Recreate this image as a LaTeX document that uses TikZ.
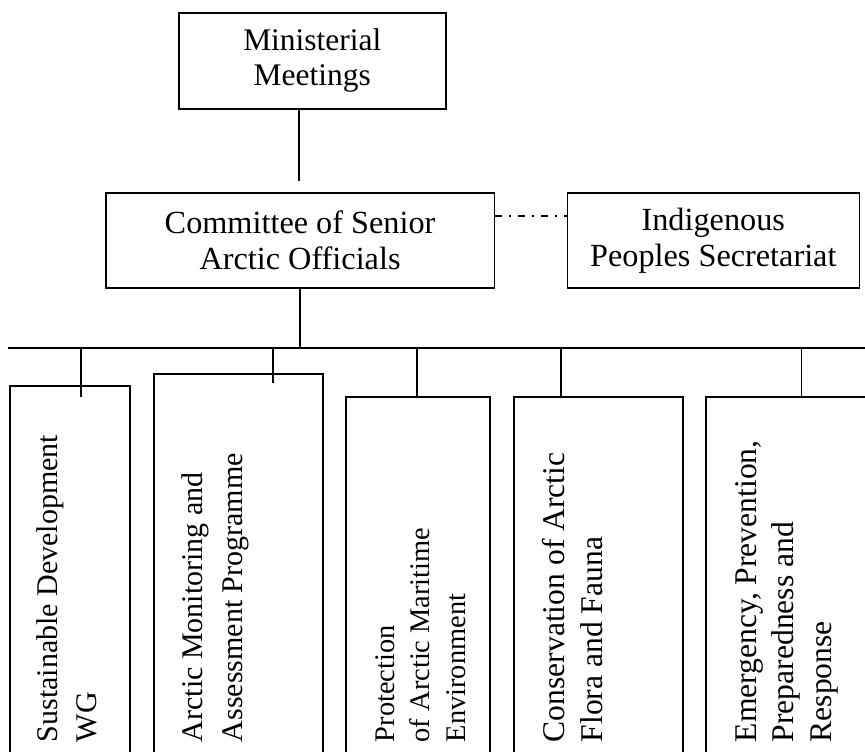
\documentclass[tikz,border=0pt]{standalone}
\usepackage{fontspec}
\setmainfont{Liberation Serif}
\usetikzlibrary{calc}
\def\px{0.75pt}
\tikzset{
  topbox/.style={draw, inner sep=0pt, align=center, anchor=north west,
    font=\fontsize{24.2pt}{27pt}\selectfont},
  wgbox/.style={draw, inner sep=0pt, anchor=north west, minimum height=420*\px},
  wgtext/.style={rotate=90, anchor=north west, inner sep=0pt, align=left},
  dd/.style={dash pattern=on 5.25pt off 5.25pt on 1.5pt off 5.25pt}
}
\begin{document}
\begin{tikzpicture}[x=0.75pt,y=-0.75pt,line width=1.2pt]
\useasboundingbox (0,0) rectangle (865,752);
\clip (0,0) rectangle (865,752);
% top boxes
\node[topbox, minimum width=267*\px, minimum height=96*\px,
      font=\fontsize{23.6pt}{26.25pt}\selectfont] (mm) at (178,12) {Ministerial\\Meetings};
\node[topbox, minimum width=388.5*\px, minimum height=95*\px] (cs) at (105,192) {Committee of Senior\\Arctic Officials};
\node[topbox, minimum width=292*\px, minimum height=95*\px] (ips) at (566.5,192) {Indigenous\\Peoples Secretariat};
% connectors top
\coordinate (mmend) at (299,181);
\draw (mm.south -| mmend) -- (mmend);
\draw[dd] ($(cs.east)+(0,-24.5)$) -- ($(ips.west)+(0,-24.5)$);
\coordinate (busL) at (8,348);
\coordinate (busR) at (866,348);
\draw (busL) -- (busR);
\draw (cs.south) -- (cs.south |- busL);
% working group boxes
\node[wgbox, minimum width=120*\px] (b1) at (9,385.5) {};
\node[wgbox, minimum width=169*\px] (b2) at (153,373) {};
\node[wgbox, minimum width=144*\px] (b3) at (345,396.5) {};
\node[wgbox, minimum width=169*\px] (b4) at (513,396.5) {};
\node[wgbox, minimum width=200*\px] (b5) at (705,396.5) {};
% stems
\coordinate (j1) at (81,348);   \coordinate (e1) at (81,397);
\coordinate (j2) at (273,348);  \coordinate (e2) at (273,383);
\coordinate (j3) at (417,348);
\coordinate (j4) at (561,348);
\coordinate (j5) at (801.5,348);
\draw (j1) -- (e1);
\draw (j2) -- (e2);
\draw (j3) -- (j3 |- b3.north);
\draw (j4) -- (j4 |- b4.north);
\draw (j5) -- (j5 |- b5.north);
% rotated texts
\node[wgtext, font=\fontsize{22.5pt}{28.9pt}\selectfont] (t1) at (36,743) {Sustainable Development\\WG};
\node[wgtext, font=\fontsize{22.5pt}{30pt}\selectfont] (t2) at (181,743) {Arctic Monitoring and\\Assessment Programme};
\node[wgtext, font=\fontsize{21.3pt}{26.6pt}\selectfont] (t3) at (374.5,743) {Protection\\of Arctic Maritime\\Environment};
\node[wgtext, font=\fontsize{23.7pt}{28.5pt}\selectfont] (t4) at (541,743) {Conservation of Arctic\\Flora and Fauna};
\node[wgtext, font=\fontsize{23.7pt}{28.1pt}\selectfont] (t5) at (734.5,743) {Emergency, Prevention,\\Preparedness and\\Response};
\end{tikzpicture}
\end{document}
